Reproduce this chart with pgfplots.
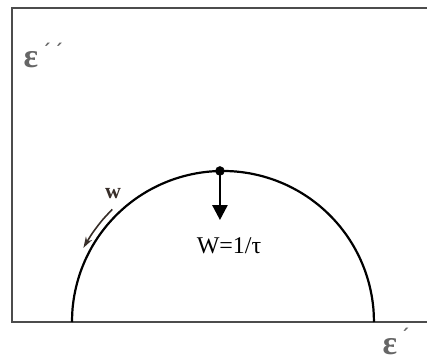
\documentclass[border=0pt]{standalone}
\usepackage{pgfplots}
\pgfplotsset{compat=1.18}
\usepackage{fontspec}
\setmainfont{Liberation Serif}
\newfontfamily\symfont{DejaVu Sans}
\usetikzlibrary{arrows.meta}
\definecolor{framegray}{gray}{0.3}
\definecolor{labelgray}{gray}{0.4}
\definecolor{wcol}{rgb}{0.22,0.18,0.16}
\begin{document}
\begin{tikzpicture}
\path[use as bounding box] (-12bp,-39bp) rectangle (415bp,322bp);
\clip (-12bp,-39bp) rectangle (415bp,322bp);
\begin{axis}[
  at={(0,0)}, anchor=south west, scale only axis,
  width=415bp, height=314bp,
  xmin=-1.397, xmax=1.351, ymin=0, ymax=2.079,
  axis line style={draw=none}, ticks=none, clip=false,
]
% frame: left, top and bottom sides only
\draw[framegray, line width=1.8bp] (rel axis cs:1,1) -- (rel axis cs:0,1) -- (rel axis cs:0,0) -- (rel axis cs:1,0);

% Cole-Cole semicircle (normalised: centre 0, radius 1)
\addplot[black, line width=2.2bp, smooth] coordinates {
(1,0) (0.9962,0.0872) (0.9848,0.1736) (0.9659,0.2588) (0.9397,0.3420)
(0.9063,0.4226) (0.8660,0.5) (0.8192,0.5736) (0.7660,0.6428) (0.7071,0.7071)
(0.6428,0.7660) (0.5736,0.8192) (0.5,0.8660) (0.4226,0.9063) (0.3420,0.9397)
(0.2588,0.9659) (0.1736,0.9848) (0.0872,0.9962) (0,1)
(-0.0872,0.9962) (-0.1736,0.9848) (-0.2588,0.9659) (-0.3420,0.9397) (-0.4226,0.9063)
(-0.5,0.8660) (-0.5736,0.8192) (-0.6428,0.7660) (-0.7071,0.7071) (-0.7660,0.6428)
(-0.8192,0.5736) (-0.8660,0.5) (-0.9063,0.4226) (-0.9397,0.3420) (-0.9659,0.2588)
(-0.9848,0.1736) (-0.9962,0.0872) (-1,0)
};

% peak point and arrow
\addplot[black, line width=2.6bp, -{Triangle[width=15bp,length=15bp]}] coordinates {(-0.02,1) (-0.02,0.675)};
\addplot[black, only marks, mark=*, mark size=4.5bp] coordinates {(-0.02,1)};

% direction of increasing frequency
\addplot[wcol, line width=1.6bp, smooth, -{Stealth[width=7bp,length=11bp]}] coordinates {
(-0.733,0.746) (-0.801,0.672) (-0.867,0.585) (-0.924,0.491)};

\node[text=wcol, font=\fontsize{22bp}{22bp}\selectfont\bfseries] at (axis cs:-0.728,0.85) {w};
\node[font=\fontsize{24bp}{24bp}\selectfont] at (axis cs:0.04,0.503) {W=1/τ};

\node[text=labelgray, font=\fontsize{34bp}{34bp}\selectfont\bfseries, anchor=center] at (axis cs:-1.272,1.735) {ε};
\node[text=labelgray, font=\symfont\fontsize{18bp}{18bp}\selectfont\bfseries] at (axis cs:-1.13,1.80) {ˊ\,ˊ};
\node[text=labelgray, font=\fontsize{34bp}{34bp}\selectfont\bfseries, anchor=center] at (axis cs:1.106,-0.16) {ε};
\node[text=labelgray, font=\symfont\fontsize{18bp}{18bp}\selectfont\bfseries] at (axis cs:1.205,-0.085) {ˊ};
\end{axis}
\end{tikzpicture}
\end{document}
